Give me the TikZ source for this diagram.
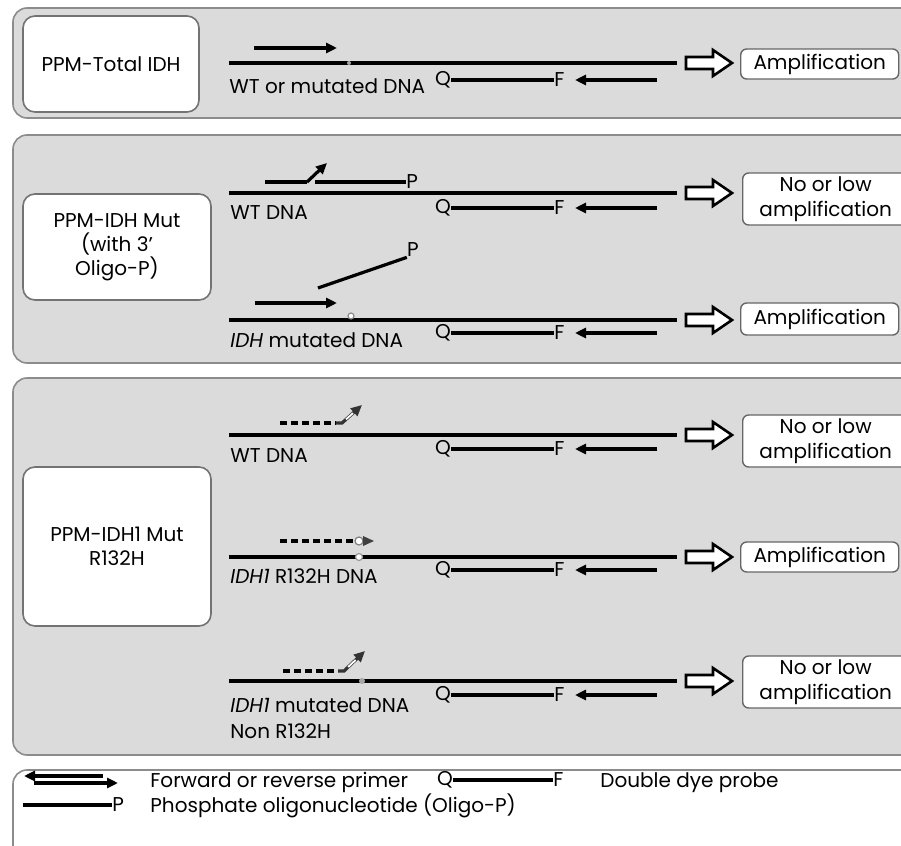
\documentclass[tikz,border=0pt]{standalone}
\usepackage{fontspec}
\setmainfont{Poppins}
\usetikzlibrary{arrows.meta}

\begin{document}
\begin{tikzpicture}[x=0.5pt,y=-0.5pt,
  panel/.style={draw=black!45, fill=black!14, line width=0.8pt, rounded corners=7pt},
  assay/.style={draw=black!55, fill=white, line width=0.8pt, rounded corners=6pt, align=center, font=\fontsize{10}{12}\selectfont},
  result/.style={draw=black!60, fill=white, line width=0.7pt, rounded corners=3pt, anchor=west, align=center, inner sep=0pt, font=\fontsize{10}{12.5}\selectfont},
  dna/.style={line width=1.6pt},
  primer/.style={line width=1.6pt, -{Triangle[length=5.5pt,width=5pt]}},
  dashprimer/.style={line width=1.6pt, dash pattern=on 3.5pt off 2pt},
  lbl/.style={anchor=base west, inner sep=0pt, font=\fontsize{10}{12.5}\selectfont},
  dye/.style={inner sep=0pt, font=\fontsize{10}{12}\selectfont},
  hollow/.pic={\draw[line width=1.3pt, fill=white] (0,-6) -- (27,-6) -- (27,-13) -- (46,0) -- (27,13) -- (27,6) -- (0,6) -- cycle;}
]
	\clip (0,0) rectangle (901,846);
	%% panels
	\draw[panel] (13,8) rectangle (940,118);
	\draw[panel] (13,135) rectangle (940,363);
	\draw[panel] (13,378) rectangle (940,755);
	\draw[panel, fill=white] (13,770) rectangle (940,900);
	%% assays
	\node[assay, minimum width=88pt, minimum height=48pt] (total) at (111,64) {PPM-Total IDH};
	\node[assay, minimum width=94pt, minimum height=53pt] (mut) at (117,247) {PPM-IDH Mut\\(with 3'\\Oligo-P)};
	\node[assay, minimum width=94pt, minimum height=79.5pt] (r132h) at (117,546.5) {PPM-IDH1 Mut\\R132H};
	%% template, probe and reverse primer
	\foreach \d/\p [count=\i] in {63/80,193/208,320/333,435/449,557/570,681/695} {
		\draw[dna] (229,\d) -- (677,\d);
		\pic at (686,\d) {hollow};
		\node[dye] (q\i) at (443,\p) {Q};
		\node[dye, anchor=west] (f\i) at (554,\p) {F};
		\draw[dna] (q\i.east) -- (f\i.west);
		\draw[primer] (657,\p) -- (575,\p);
	}
	%% results
	\node[result, minimum width=79pt, minimum height=15pt] (amp1) at (740,64) {Amplification};
	\node[result, minimum width=83pt, minimum height=26pt] (low2) at (742,199) {No or low\\amplification};
	\node[result, minimum width=79pt, minimum height=16pt] (amp3) at (740,319) {Amplification};
	\node[result, minimum width=83pt, minimum height=26pt] (low4) at (742,441) {No or low\\amplification};
	\node[result, minimum width=79pt, minimum height=15pt] (amp5) at (740,557) {Amplification};
	\node[result, minimum width=83pt, minimum height=26pt] (low6) at (742,682) {No or low\\amplification};
	%% labels
	\node[lbl] (lab1) at (229,93) {WT or mutated DNA};
	\node[lbl] (lab2) at (230,219) {WT DNA};
	\node[lbl] (lab3) at (230,347) {\textit{IDH} mutated DNA};
	\node[lbl] (lab4) at (230,462) {WT DNA};
	\node[lbl] (lab5) at (230,583) {\textit{IDH1} R132H DNA};
	\node[lbl] (lab6) at (230,712) {\textit{IDH1} mutated DNA};
	\node[lbl] (lab7) at (230,738) {Non R132H};
	%% panel 1
	\draw[primer] (254,48) -- (337,48);
	\fill[black!35] (349,63) circle (2);
	%% panel 2
	\draw[dna] (265,182) -- (307,182);
	\draw[primer] (307,182) -- (327,163);
	\node[dye, anchor=west] (p2) at (406,182) {P};
	\draw[dna] (315,182) -- (p2.west);
	\draw[primer] (255,303) -- (337,303);
	\node[dye] (p3) at (413,250) {P};
	\draw[dna] (318,288) -- (p3.south west);
	\draw[fill=white, draw=black!45, line width=0.6pt] (351,316) circle (3);
	%% panel 3
	\draw[dashprimer] (280,423) -- (336,423);
	\draw[primer, black!80] (336,423) -- (342,423) -- (362,405);
	\draw[white, line width=0.9pt] (346,419.4) -- (353,413.1);
	\draw[dashprimer] (280,541) -- (354,541);
	\draw[fill=white, draw=black!50, line width=0.6pt] (359,541) circle (4);
	\fill[black!75] (363,536) -- (374,541) -- (363,546) -- cycle;
	\draw[fill=white, draw=black!40, line width=0.6pt] (359,557) circle (3.5);
	\draw[dashprimer] (283,671) -- (338,671);
	\draw[primer, black!80] (338,671) -- (344,671) -- (365,651);
	\draw[white, line width=0.9pt] (348.2,667) -- (355.6,660);
	\fill[black!35] (362,681) circle (3);
	%% legend
	\draw[primer] (103,776) -- (24,776);
	\draw[primer] (34,783) -- (118,783);
	\node[lbl] (leg1) at (150,787) {Forward or reverse primer};
	\node[dye] (lq) at (445,780) {Q};
	\node[dye, anchor=west] (lf) at (553,780) {F};
	\draw[dna] (lq.east) -- (lf.west);
	\node[lbl] (leg2) at (600,787) {Double dye probe};
	\node[dye, anchor=west] (lp) at (112,805) {P};
	\draw[dna] (23,805) -- (lp.west);
	\node[lbl] (leg3) at (150,812) {Phosphate oligonucleotide (Oligo-P)};
\end{tikzpicture}
\end{document}
